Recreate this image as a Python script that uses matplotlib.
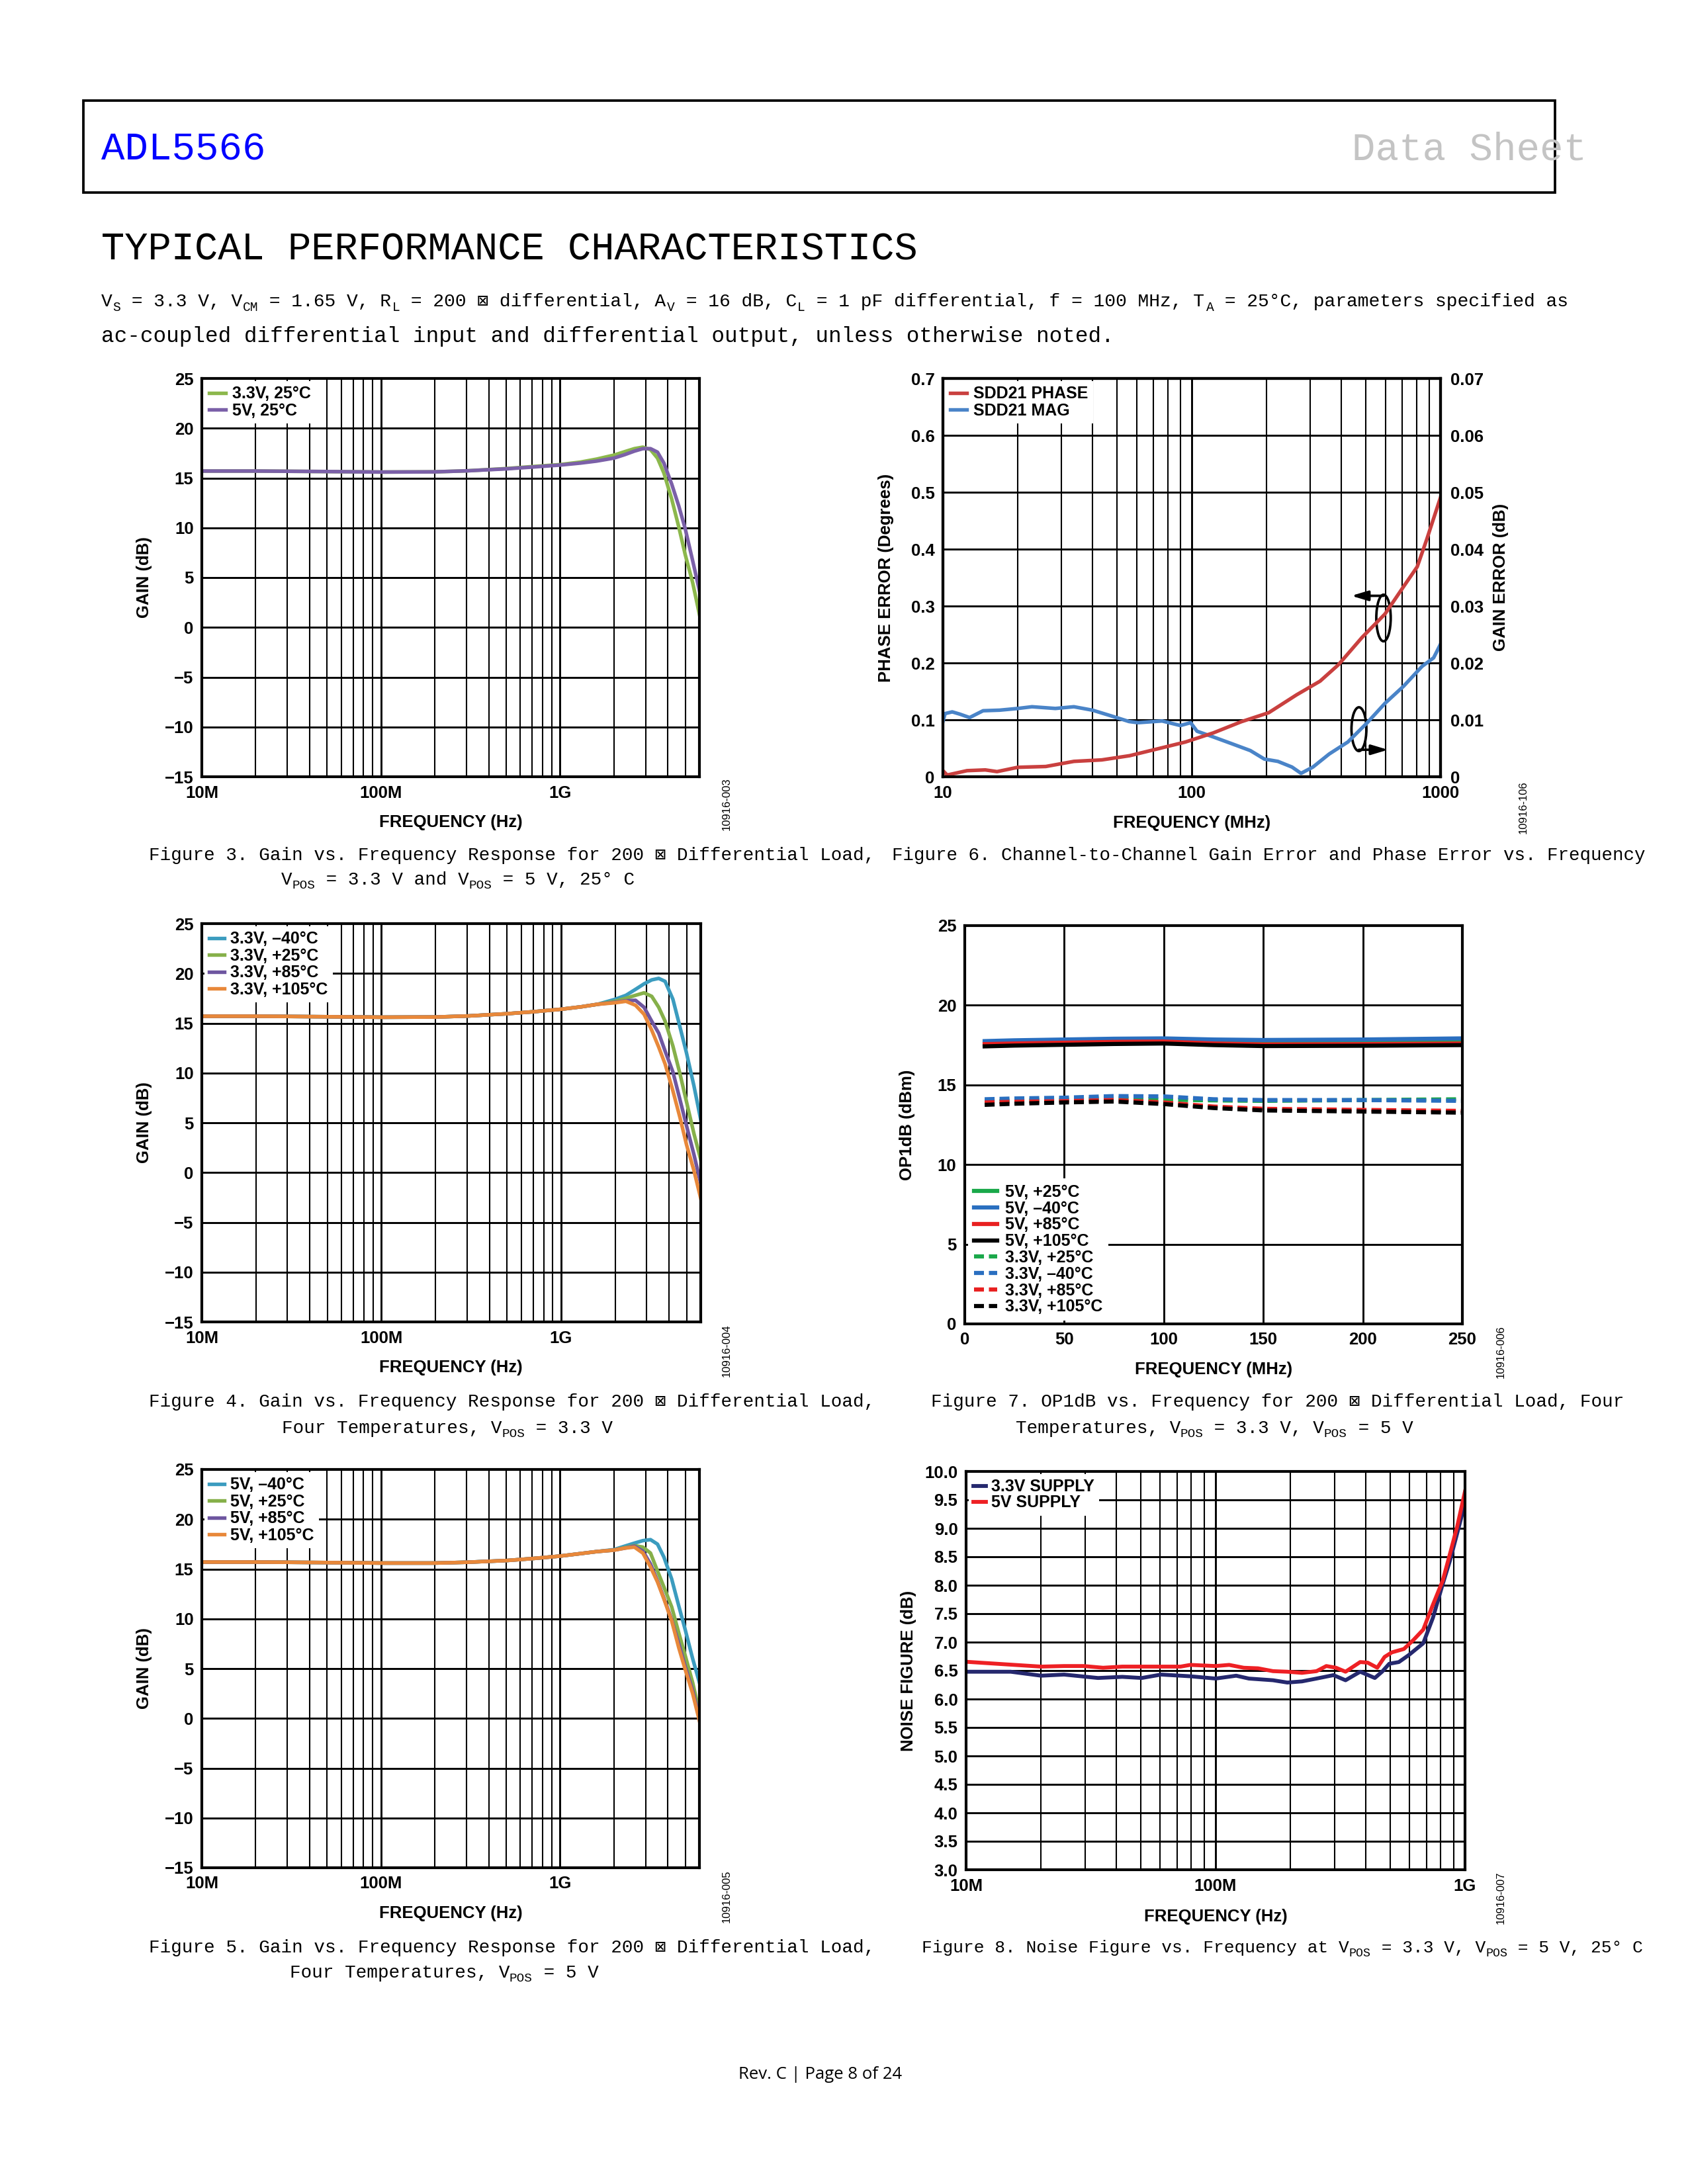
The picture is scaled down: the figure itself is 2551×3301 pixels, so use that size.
import numpy as np
import matplotlib
matplotlib.use('Agg')
from matplotlib import pyplot as plt
from matplotlib.ticker import LogLocator, NullFormatter
from matplotlib.patches import Ellipse, Rectangle

# ---------------- data ----------------
# gain vs frequency (Figures 3, 4, 5), Hz / dB
gain_freq = [1e7, 2e7, 5e7, 1e8, 2e8, 3e8, 5e8, 7e8, 1e9, 1.3e9, 1.6e9, 2e9, 2.3e9,
             2.6e9, 2.9e9, 3.2e9, 3.5e9, 3.8e9, 4.2e9, 4.6e9, 5.0e9, 5.5e9, 6e9]
fig3_3v3 = [15.7, 15.7, 15.65, 15.6, 15.62, 15.72, 15.95, 16.15, 16.35, 16.6, 16.9, 17.3, 17.65,
            17.95, 18.1, 17.85, 17.0, 15.5, 12.9, 10.1, 7.3, 4.5, 1.3]
fig3_5v = [15.7, 15.7, 15.65, 15.6, 15.62, 15.72, 15.92, 16.1, 16.3, 16.5, 16.7, 17.0, 17.35,
           17.7, 17.95, 17.95, 17.6, 16.5, 14.4, 12.2, 9.9, 6.7, 3.7]

fig4_m40 = [15.7, 15.7, 15.65, 15.6, 15.62, 15.72, 15.95, 16.15, 16.4, 16.65, 16.9, 17.4, 17.8,
            18.4, 18.95, 19.35, 19.5, 19.2, 17.4, 14.6, 12.0, 8.7, 5.3]
fig4_p25 = [15.7, 15.7, 15.65, 15.6, 15.62, 15.72, 15.95, 16.15, 16.4, 16.65, 16.9, 17.2, 17.5,
            17.8, 18.05, 17.7, 16.6, 15.2, 12.7, 9.9, 7.1, 3.9, 1.3]
fig4_p85 = [15.7, 15.7, 15.65, 15.6, 15.62, 15.72, 15.95, 16.15, 16.4, 16.65, 16.9, 17.1, 17.25,
            17.3, 16.6, 15.2, 14.0, 12.2, 10.1, 7.3, 4.7, 1.8, -1.1]
fig4_p105 = [15.7, 15.7, 15.65, 15.6, 15.62, 15.72, 15.95, 16.15, 16.4, 16.65, 16.9, 17.05, 17.2,
             16.8, 15.9, 14.3, 12.6, 10.9, 8.2, 5.5, 2.8, 0.2, -2.6]

fig5_m40 = [15.7, 15.7, 15.65, 15.6, 15.6, 15.68, 15.85, 16.05, 16.3, 16.55, 16.75, 16.95, 17.3,
            17.6, 17.85, 17.95, 17.5, 16.2, 14.0, 11.3, 8.9, 6.0, 3.6]
fig5_p25 = [15.7, 15.7, 15.65, 15.6, 15.6, 15.68, 15.85, 16.05, 16.3, 16.55, 16.75, 16.9, 17.15,
            17.35, 17.2, 16.6, 14.8, 13.2, 11.2, 8.6, 6.3, 3.6, 0.6]
fig5_p85 = [15.7, 15.7, 15.65, 15.6, 15.6, 15.68, 15.85, 16.05, 16.3, 16.55, 16.75, 16.9, 17.1,
            17.3, 16.8, 15.5, 13.8, 12.1, 9.9, 7.5, 5.2, 2.8, 0.1]
fig5_p105 = [15.7, 15.7, 15.65, 15.6, 15.6, 15.68, 15.85, 16.05, 16.3, 16.55, 16.75, 16.9, 17.1,
             17.2, 16.6, 15.2, 13.7, 12.0, 9.8, 7.1, 4.9, 2.5, -0.25]

# channel-to-channel error (Figure 6), MHz
phase_freq = [10, 10.4, 12.5, 14.8, 16.5, 20, 25.9, 33.6, 43.5, 56.3, 72.9, 94.3, 122, 158,
              204, 264, 328, 389, 484, 598, 710, 806, 880, 1000]
phase_err = [0.0107, 0.003, 0.0107, 0.012, 0.009, 0.0166, 0.018, 0.027, 0.0296, 0.037, 0.049,
             0.061, 0.077, 0.0966, 0.1126, 0.144, 0.168, 0.197, 0.245, 0.286, 0.334, 0.369,
             0.417, 0.491]
mag_freq = [10, 10.2, 10.9, 11.7, 12.8, 14.5, 16.9, 20, 22.8, 28.3, 33.6, 39.9, 47.4, 56, 60.8,
            76, 90, 99, 105, 122, 145, 172, 196, 222, 253, 275, 307, 357, 424, 505, 598, 710,
            843, 938, 1000]
mag_err = [0.0097, 0.0111, 0.0114, 0.011, 0.0104, 0.0116, 0.0117, 0.012, 0.0123, 0.012, 0.0123,
           0.0117, 0.0107, 0.0097, 0.0095, 0.0098, 0.009, 0.0095, 0.008, 0.007, 0.0058, 0.0046,
           0.0031, 0.0027, 0.0017, 0.0006, 0.0017, 0.004, 0.0061, 0.0094, 0.0129, 0.0159,
           0.0194, 0.0209, 0.0233]

# OP1dB (Figure 7), MHz / dBm
op_freq = [10, 25, 50, 75, 100, 125, 150, 200, 250]
op_5v_p25 = [17.62, 17.66, 17.7, 17.73, 17.76, 17.7, 17.67, 17.7, 17.75]
op_5v_m40 = [17.75, 17.8, 17.85, 17.9, 17.92, 17.85, 17.82, 17.85, 17.92]
op_5v_p85 = [17.56, 17.6, 17.65, 17.7, 17.72, 17.6, 17.54, 17.56, 17.6]
op_5v_p105 = [17.42, 17.47, 17.52, 17.57, 17.6, 17.5, 17.44, 17.46, 17.5]
op_3v3_p25 = [13.98, 14.02, 14.07, 14.18, 14.07, 14.03, 14.0, 14.05, 14.1]
op_3v3_m40 = [14.1, 14.15, 14.2, 14.3, 14.28, 14.1, 14.05, 14.05, 14.0]
op_3v3_p85 = [13.9, 13.94, 13.98, 14.05, 13.9, 13.64, 13.5, 13.43, 13.37]
op_3v3_p105 = [13.75, 13.82, 13.9, 13.96, 13.8, 13.55, 13.4, 13.33, 13.26]

# noise figure (Figure 8), Hz / dB
nf_freq_3v3 = [1e7, 1.51e7, 2.0e7, 2.47e7, 3.38e7, 4.23e7, 5.06e7, 6.05e7, 7.92e7, 1e8, 1.21e8,
               1.36e8, 1.70e8, 1.94e8, 2.22e8, 2.54e8, 2.97e8, 3.32e8, 3.8e8, 4.35e8, 4.65e8,
               4.97e8, 5.43e8, 5.94e8, 6.8e8, 7.44e8, 8.14e8, 8.7e8, 9.3e8, 1e9]
nf_3v3 = [6.48, 6.48, 6.41, 6.43, 6.37, 6.39, 6.37, 6.43, 6.40, 6.36, 6.41, 6.36, 6.33, 6.29,
          6.31, 6.36, 6.42, 6.33, 6.48, 6.37, 6.48, 6.62, 6.65, 6.77, 6.98, 7.43, 8.02, 8.43,
          8.91, 9.44]
nf_freq_5v = [1e7, 1.44e7, 2e7, 2.47e7, 2.96e7, 3.54e7, 4.23e7, 5.53e7, 7.24e7, 7.92e7, 1e8,
              1.134e8, 1.297e8, 1.48e8, 1.7e8, 1.94e8, 2.22e8, 2.54e8, 2.78e8, 3.04e8, 3.32e8,
              3.8e8, 4.07e8, 4.45e8, 4.76e8, 5.09e8, 5.69e8, 6.22e8, 6.8e8, 7.44e8, 8.14e8,
              8.7e8, 9.3e8, 1e9]
nf_5v = [6.655, 6.61, 6.57, 6.58, 6.58, 6.55, 6.57, 6.57, 6.57, 6.6, 6.58, 6.6, 6.55, 6.54,
         6.49, 6.48, 6.46, 6.49, 6.58, 6.55, 6.48, 6.65, 6.64, 6.55, 6.74, 6.82, 6.88, 7.04,
         7.22, 7.66, 8.08, 8.55, 9.03, 9.65]

# annotation marks in figure 6: (MHz, left-axis value)
phase_mark = (590, 0.279)
phase_arrow_tip = (438, 0.318)
mag_mark = (470, 0.0836)
mag_arrow_tip = (615, 0.0474)

# ---------------- page layout ----------------
W, H = 2551, 3301
DPI = 300
PX = DPI / 72.0
SUB = 0.7
MONO = ['Liberation Mono', 'DejaVu Sans Mono', 'DejaVu Sans']
TICK = 6.2
LEG = 6.0

plt.rcParams['font.family'] = ['Liberation Sans', 'DejaVu Sans']
plt.rcParams['font.weight'] = 'bold'
plt.rcParams['axes.unicode_minus'] = True

fig = plt.figure(figsize=(W / DPI, H / DPI), dpi=DPI)


def axes_at(l, t, r, b):
    return fig.add_axes([l / W, 1 - b / H, (r - l) / W, (b - t) / H])


def ftext(x, y, s, **kw):
    return fig.text(x / W, 1 - y / H, s, **kw)


def mono_line(x, y, runs, size, ha='left', max_w=None, color='black'):
    # runs of (text, is_subscript) laid out on a monospace grid; y is the line centre
    slots = sum(len(s) * (SUB if sub else 1.0) for s, sub in runs)
    if max_w is not None:
        size = min(size, max_w / (slots * 0.6 * PX))
    cw = 0.6 * size * PX
    x0 = x - slots * cw / 2 if ha == 'center' else x
    base = y + 0.3 * size * PX
    for s, sub in runs:
        if sub:
            ftext(x0, base + 0.22 * size * PX, s, family=MONO, size=size * SUB,
                  weight='normal', va='baseline', color=color)
            x0 += len(s) * cw * SUB
        else:
            ftext(x0, base, s, family=MONO, size=size, weight='normal', va='baseline', color=color)
            x0 += len(s) * cw


def style(ax):
    for sp in ax.spines.values():
        sp.set_linewidth(1.0)
    ax.tick_params(which='both', length=0, labelsize=TICK, pad=3)
    ax.grid(True, which='major', color='black', lw=0.7)


def log_minor(ax):
    ax.xaxis.set_minor_locator(LogLocator(base=10, subs=np.arange(2, 10)))
    ax.xaxis.set_minor_formatter(NullFormatter())
    ax.grid(True, which='minor', axis='x', color='black', lw=0.5)


def legend(ax, loc, hl, htp, ls=0.06, **kw):
    return ax.legend(loc=loc, fontsize=LEG, handlelength=hl, handletextpad=htp, labelspacing=ls,
                     borderpad=0.3, borderaxespad=0.15, frameon=True, fancybox=False,
                     facecolor='white', edgecolor='none', framealpha=1, **kw)


def gain_axes(ax):
    ax.set_xscale('log')
    ax.set_xlim(1e7, 6e9)
    ax.set_ylim(-15, 25)
    ax.set_yticks(range(-15, 26, 5))
    ax.set_xticks([1e7, 1e8, 1e9])
    ax.set_xticklabels(['10M', '100M', '1G'])
    style(ax)
    log_minor(ax)


# ---------------- header ----------------
fig.add_artist(Rectangle((126 / W, 1 - 291 / H), (2350 - 126) / W, (291 - 152) / H,
                         fill=False, lw=0.9, ec='black', transform=fig.transFigure))
mono_line(153, 224, [('ADL5566', False)], 14.2, color='#0000ff')
mono_line(2043, 224, [('Data Sheet', False)], 14.2, color='#c4c4c4')
mono_line(153, 375, [('TYPICAL PERFORMANCE CHARACTERISTICS', False)], 14.1)
mono_line(153, 455, [('V', False), ('S', True), (' = 3.3 V, V', False), ('CM', True),
                     (' = 1.65 V, R', False), ('L', True), (' = 200 \u22a0 differential, A', False),
                     ('V', True), (' = 16 dB, C', False), ('L', True),
                     (' = 1 pF differential, f = 100 MHz, T', False), ('A', True),
                     (' = 25\u00b0C, parameters specified as', False)], 7.84, max_w=2220)
mono_line(153, 507, [('ac-coupled differential input and differential output, '
                      'unless otherwise noted.', False)], 7.84)

# ---------------- Figure 3 ----------------
ax3 = axes_at(305, 572, 1057, 1174)
gain_axes(ax3)
ax3.plot(gain_freq, fig3_3v3, color='#8cb84c', lw=1.3, label='3.3V, 25\u00b0C')
ax3.plot(gain_freq, fig3_5v, color='#7b60a8', lw=1.3, label='5V, 25\u00b0C')
legend(ax3, 'upper left', 1.0, 0.38)

# ---------------- Figure 4 ----------------
ax4 = axes_at(305, 1396, 1059, 1998)
gain_axes(ax4)
ax4.plot(gain_freq, fig4_m40, color='#3b9cbf', lw=1.3, label='3.3V, \u201340\u00b0C')
ax4.plot(gain_freq, fig4_p25, color='#86b04a', lw=1.3, label='3.3V, +25\u00b0C')
ax4.plot(gain_freq, fig4_p85, color='#6e56a0', lw=1.3, label='3.3V, +85\u00b0C')
ax4.plot(gain_freq, fig4_p105, color='#e8883a', lw=1.3, label='3.3V, +105\u00b0C')
legend(ax4, 'upper left', 0.9, 0.38)

# ---------------- Figure 5 ----------------
ax5 = axes_at(305, 2221, 1057, 2823)
gain_axes(ax5)
ax5.plot(gain_freq, fig5_m40, color='#3b9cbf', lw=1.3, label='5V, \u201340\u00b0C')
ax5.plot(gain_freq, fig5_p25, color='#86b04a', lw=1.3, label='5V, +25\u00b0C')
ax5.plot(gain_freq, fig5_p85, color='#6e56a0', lw=1.3, label='5V, +85\u00b0C')
ax5.plot(gain_freq, fig5_p105, color='#e8883a', lw=1.3, label='5V, +105\u00b0C')
legend(ax5, 'upper left', 0.9, 0.38)

# ---------------- Figure 6 ----------------
ax6 = axes_at(1425, 572, 2177, 1174)
ax6.set_xscale('log')
ax6.set_xlim(10, 1000)
ax6.set_ylim(0, 0.7)
ax6.set_xticks([10, 100, 1000])
ax6.set_xticklabels(['10', '100', '1000'])
left_ticks = [0, 0.1, 0.2, 0.3, 0.4, 0.5, 0.6, 0.7]
ax6.set_yticks(left_ticks)
ax6.set_yticklabels(['0', '0.1', '0.2', '0.3', '0.4', '0.5', '0.6', '0.7'])
style(ax6)
log_minor(ax6)
ax6b = ax6.twinx()
ax6b.set_ylim(0, 0.07)
ax6b.set_yticks([0, 0.01, 0.02, 0.03, 0.04, 0.05, 0.06, 0.07])
ax6b.set_yticklabels(['0', '0.01', '0.02', '0.03', '0.04', '0.05', '0.06', '0.07'])
for sp in ax6b.spines.values():
    sp.set_linewidth(1.0)
ax6b.tick_params(length=0, labelsize=TICK, pad=3.5)
l_mag, = ax6b.plot(mag_freq, mag_err, color='#4a84c8', lw=1.3, label='SDD21 MAG')
l_ph, = ax6b.plot(phase_freq, np.array(phase_err) / 10.0, color='#c9403f', lw=1.3,
                  label='SDD21 PHASE')
legend(ax6b, 'upper left', 1.0, 0.4, handles=[l_ph, l_mag])
ax6.add_patch(Ellipse(((np.log10(phase_mark[0]) - 1) / 2, phase_mark[1] / 0.7), 0.029, 0.117,
                      transform=ax6.transAxes, fill=False, lw=0.9, ec='black', zorder=5))
ax6.add_patch(Ellipse(((np.log10(mag_mark[0]) - 1) / 2, mag_mark[1] / 0.7), 0.030, 0.110,
                      transform=ax6.transAxes, fill=False, lw=0.9, ec='black', zorder=5))
ax6.annotate('', xy=phase_arrow_tip, xytext=(phase_mark[0], phase_arrow_tip[1]),
             arrowprops=dict(arrowstyle='-|>,head_length=0.5,head_width=0.15', color='black',
                             lw=0.9, mutation_scale=10, shrinkA=0, shrinkB=0), zorder=5)
ax6.annotate('', xy=mag_arrow_tip, xytext=(mag_mark[0], mag_arrow_tip[1]),
             arrowprops=dict(arrowstyle='-|>,head_length=0.5,head_width=0.15', color='black',
                             lw=0.9, mutation_scale=10, shrinkA=0, shrinkB=0), zorder=5)

# ---------------- Figure 7 ----------------
ax7 = axes_at(1458, 1399, 2210, 2001)
ax7.set_xlim(0, 250)
ax7.set_ylim(0, 25)
ax7.set_xticks(range(0, 251, 50))
ax7.set_yticks(range(0, 26, 5))
style(ax7)
dash = (2.4, 1.2)
ax7.plot(op_freq, op_5v_p25, color='#1aa84a', lw=1.5, label='5V, +25\u00b0C')
ax7.plot(op_freq, op_5v_m40, color='#2a6fc0', lw=1.5, label='5V, \u201340\u00b0C')
ax7.plot(op_freq, op_5v_p85, color='#e82020', lw=1.5, label='5V, +85\u00b0C')
ax7.plot(op_freq, op_5v_p105, color='black', lw=1.5, label='5V, +105\u00b0C')
ax7.plot(op_freq, op_3v3_p25, color='#1aa84a', lw=1.5, dashes=dash, label='3.3V, +25\u00b0C')
ax7.plot(op_freq, op_3v3_m40, color='#2a6fc0', lw=1.5, dashes=dash, label='3.3V, \u201340\u00b0C')
ax7.plot(op_freq, op_3v3_p85, color='#e82020', lw=1.5, dashes=dash, label='3.3V, +85\u00b0C')
ax7.plot(op_freq, op_3v3_p105, color='black', lw=1.5, dashes=dash, label='3.3V, +105\u00b0C')
ax7.legend(loc='lower left', fontsize=LEG, handlelength=1.4, handletextpad=0.5,
           labelspacing=0.03, borderpad=0.35, borderaxespad=0.2, frameon=True,
           fancybox=False, facecolor='white', edgecolor='none', framealpha=1)

# ---------------- Figure 8 ----------------
ax8 = axes_at(1460, 2224, 2214, 2826)
ax8.set_xscale('log')
ax8.set_xlim(1e7, 1e9)
ax8.set_ylim(3.0, 10.0)
ax8.set_xticks([1e7, 1e8, 1e9])
ax8.set_xticklabels(['10M', '100M', '1G'])
nf_ticks = np.arange(3.0, 10.01, 0.5)
ax8.set_yticks(nf_ticks)
ax8.set_yticklabels(['%.1f' % v for v in nf_ticks])
style(ax8)
log_minor(ax8)
ax8.plot(nf_freq_3v3, nf_3v3, color='#25286e', lw=1.4, label='3.3V SUPPLY')
ax8.plot(nf_freq_5v, nf_5v, color='#ee2024', lw=1.4, label='5V SUPPLY')
legend(ax8, 'upper left', 0.75, 0.3, ls=0.0)

# ---------------- axis titles and side ids ----------------
lab = dict(size=TICK, ha='center', va='center')
for yc in (873, 1697, 2522):
    ftext(218, yc, 'GAIN (dB)', rotation=90, **lab)
for yc in (1243, 2067, 2892):
    ftext(681, yc, 'FREQUENCY (Hz)', **lab)
ftext(1339, 873, 'PHASE ERROR (Degrees)', rotation=90, **lab)
ftext(2268, 872, 'GAIN ERROR (dB)', rotation=90, **lab)
ftext(1801, 1244, 'FREQUENCY (MHz)', **lab)
ftext(1371, 1700, 'OP1dB (dBm)', rotation=90, **lab)
ftext(1834, 2070, 'FREQUENCY (MHz)', **lab)
ftext(1373, 2525, 'NOISE FIGURE (dB)', rotation=90, **lab)
ftext(1837, 2897, 'FREQUENCY (Hz)', **lab)

sid = dict(size=4.0, weight='normal', rotation=90, ha='center', va='center')
ftext(1098, 1215, '10916-003', **sid)
ftext(2302, 1220, '10916-106', **sid)
ftext(1098, 2041, '10916-004', **sid)
ftext(2268, 2043, '10916-006', **sid)
ftext(1098, 2866, '10916-005', **sid)
ftext(2268, 2868, '10916-007', **sid)

# ---------------- captions ----------------
CAP = 6.64
mono_line(225, 1292, [('Figure 3. Gain vs. Frequency Response for 200 \u22a0 Differential Load,', False)], CAP)
mono_line(692, 1329, [('V', False), ('POS', True), (' = 3.3 V and V', False), ('POS', True),
                      (' = 5 V, 25\u00b0 C', False)], CAP, ha='center')
mono_line(1348, 1292, [('Figure 6. Channel-to-Channel Gain Error and Phase Error vs. Frequency', False)],
          CAP, max_w=1140)
mono_line(225, 2118, [('Figure 4. Gain vs. Frequency Response for 200 \u22a0 Differential Load,', False)], CAP)
mono_line(676, 2158, [('Four Temperatures, V', False), ('POS', True), (' = 3.3 V', False)], CAP, ha='center')
mono_line(1407, 2118, [('Figure 7. OP1dB vs. Frequency for 200 \u22a0 Differential Load, Four', False)], CAP)
mono_line(1835, 2158, [('Temperatures, V', False), ('POS', True), (' = 3.3 V, V', False), ('POS', True),
                       (' = 5 V', False)], CAP, ha='center')
mono_line(225, 2943, [('Figure 5. Gain vs. Frequency Response for 200 \u22a0 Differential Load,', False)], CAP)
mono_line(671, 2981, [('Four Temperatures, V', False), ('POS', True), (' = 5 V', False)], CAP, ha='center')
mono_line(1393, 2943, [('Figure 8. Noise Figure vs. Frequency at V', False), ('POS', True),
                       (' = 3.3 V, V', False), ('POS', True), (' = 5 V, 25\u00b0 C', False)],
          CAP, max_w=1090)

ftext(1240, 3135, 'Rev. C | Page 8 of 24', family=['Open Sans', 'DejaVu Sans'], size=6.2,
      weight='normal', ha='center', va='center')

fig.savefig('out.png', dpi=DPI)
